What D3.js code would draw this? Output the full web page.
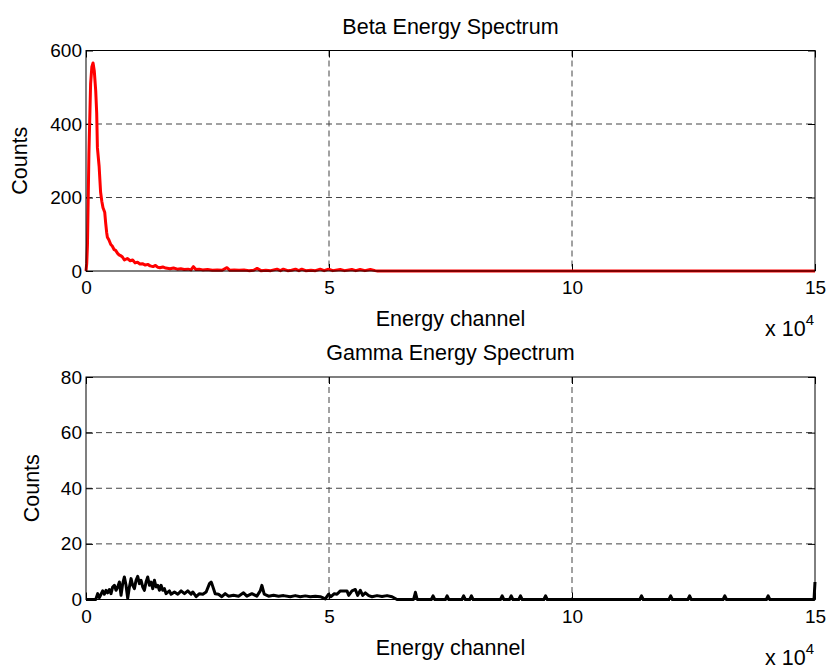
<!DOCTYPE html>
<html>
<head>
<meta charset="utf-8">
<script src="https://cdn.jsdelivr.net/npm/d3@7"></script>
<style>
  body { margin: 0; background: #fff; }
  svg { display: block; }
  text { font-family: "Liberation Sans", Arial, Helvetica, sans-serif; fill: #000; }
</style>
</head>
<body>
<svg id="chart" width="830" height="668"></svg>
<script>
// Beta spectrum: channel positions and counts
const betaChannel = [
  0, 150, 300, 600, 950, 1200, 1450, 1700, 2000, 2200,
  2350, 2700, 3000, 3250, 3500, 3850, 4050, 4250, 4400, 4700,
  5100, 5400, 5800, 6100, 6500, 6800, 7100, 7500, 7900, 8500,
  9100, 9600, 10100, 10600, 11100, 11600, 12200, 12700, 13200, 13800,
  14300, 14800, 15200, 15800, 16400, 17300, 18000, 18800, 19500, 20200,
  21000, 21600, 22100, 22600, 23300, 24000, 25000, 26000, 27000, 28000,
  29000, 29600, 30500, 31500, 32500, 33500, 34500, 35200, 36000, 37000,
  38000, 39300, 40000, 40600, 41500, 42300, 43100, 43800, 44400, 45200,
  46300, 47200, 48200, 49000, 49900, 50800, 52300, 53200, 54700, 55500,
  56400, 57400, 58500, 59500, 60000, 150000
];
const betaCounts = [
  0, 20, 70, 320, 510, 555, 566, 545, 490, 430,
  335, 285, 215, 190, 172, 160, 130, 105, 92, 85,
  72, 68, 58, 56, 48, 44, 42, 38, 30, 34,
  28, 30, 22, 24, 19, 20, 16, 18, 14, 12,
  15, 10, 9, 11, 8, 6, 8, 5, 6, 4,
  5, 3, 12, 4, 5, 3, 4, 2, 3, 2,
  9, 2, 3, 2, 3, 1, 2, 7, 1, 2,
  1, 5, 1, 5, 1, 2, 5, 1, 5, 1,
  2, 1, 5, 1, 5, 1, 4, 1, 4, 1,
  4, 1, 4, 1, 0, 0
];

// Gamma spectrum: channel positions and counts
const gammaChannel = [
  0, 2000, 2400, 2750, 3100, 3430, 3780, 4120, 4460, 4810,
  5150, 5490, 5840, 6180, 6520, 6870, 7210, 7550, 7900, 8240,
  8580, 8930, 9270, 9610, 9960, 10300, 10640, 10990, 11330, 11670,
  12020, 12360, 12700, 13050, 13390, 13730, 14080, 14420, 14760, 15110,
  15450, 15790, 16140, 16480, 17170, 17510, 18200, 18890, 19570, 20260,
  20940, 21630, 21970, 22660, 23350, 24040, 24720, 25410, 25750, 25890,
  26580, 27260, 27950, 28640, 29320, 30350, 31380, 32410, 33100, 34130,
  35160, 35850, 36190, 36670, 37560, 38590, 39620, 40650, 42030, 43060,
  44090, 45120, 46150, 47180, 48210, 49240, 49920, 50410, 51090, 51640,
  52330, 53700, 54050, 54730, 55420, 55900, 56450, 56930, 57480, 58170,
  58850, 59880, 60910, 61940, 62970, 64000,
  67400, 67780, 68150, 71050, 71410, 71770, 73950, 74300, 74650,
  77350, 77700, 78050, 78950, 79300, 79650, 85280, 85630, 85980,
  87140, 87490, 87840, 89050, 89400, 89750, 94210, 94560, 94910,
  113950, 114300, 114650, 119950, 120300, 120650, 123850, 124200, 124550,
  131090, 131440, 131790, 140010, 140360, 140710, 149800, 150000
];
const gammaCounts = [
  0, 0, 2.1, 0.7, 1.9, 3.1, 1.9, 3.3, 2.4, 3.6,
  2.1, 4.5, 5.1, 3.3, 4.5, 6.3, 1.5, 5.7, 8.1, 5.1,
  0.4, 4.5, 7.5, 5.1, 3.9, 6.9, 8.3, 5.7, 6.9, 4.5,
  3.3, 6.3, 8.1, 5.1, 6.3, 3.9, 6.9, 4.5, 5.1, 3.3,
  5.1, 3.3, 3.9, 2.1, 3.1, 1.9, 2.7, 1.9, 3.1, 2.1,
  3.1, 1.9, 2.7, 1, 2.1, 1.9, 2.7, 5.7, 6.3, 5.7,
  2.1, 1.9, 1, 2.1, 1.2, 1.5, 1.2, 2.4, 1.2, 2.1,
  1.2, 3.1, 5.1, 1.9, 1.2, 1.5, 1.2, 1.4, 1, 1.4,
  1, 1.3, 1, 1.2, 1, 0.2, 1.9, 1, 2.1, 1.9,
  3.1, 3.1, 1.5, 3.1, 3.6, 1.5, 3.3, 1.5, 2.4, 1.4,
  1, 1.4, 1.1, 1.4, 1, 0,
  0, 2.6, 0, 0, 1.3, 0, 0, 1.3, 0,
  0, 1.3, 0, 0, 1.3, 0, 0, 1.3, 0,
  0, 1.3, 0, 0, 1.3, 0, 0, 1.3, 0,
  0, 1.3, 0, 0, 1.3, 0, 0, 1.3, 0,
  0, 1.3, 0, 0, 1.3, 0, 0, 6.3
];

// Axis ticks and labels
const xTicks = [0, 50000, 100000, 150000];
const xTickLabels = ["0", "5", "10", "15"];
const betaYTicks = [0, 200, 400, 600];
const gammaYTicks = [0, 20, 40, 60, 80];

const svg = d3.select("#chart");
const plotLeft = 86, plotRight = 815;
const tickLen = 7;
const tickFont = "19px";
const labelFont = "21.5px";

const panels = [
  { title: "Beta Energy Spectrum", top: 50.5, bottom: 271, yMax: 600,
    yTicks: betaYTicks, xs: betaChannel, ys: betaCounts, color: "#ff0000", ylabelX: 27 },
  { title: "Gamma Energy Spectrum", top: 377, bottom: 599.5, yMax: 80,
    yTicks: gammaYTicks, xs: gammaChannel, ys: gammaCounts, color: "#000000", ylabelX: 39 }
];

panels.forEach(p => {
  const x = d3.scaleLinear().domain([0, 150000]).range([plotLeft, plotRight]);
  const y = d3.scaleLinear().domain([0, p.yMax]).range([p.bottom, p.top]);
  const g = svg.append("g");

  // dashed grid at interior ticks
  g.append("g").selectAll("line")
    .data(xTicks.filter(d => d > 0 && d < 150000))
    .join("line")
    .attr("x1", d => x(d)).attr("x2", d => x(d))
    .attr("y1", p.top).attr("y2", p.bottom)
    .attr("stroke", "#444").attr("stroke-width", 1)
    .attr("stroke-dasharray", "6,4");
  g.append("g").selectAll("line")
    .data(p.yTicks.filter(d => d > 0 && d < p.yMax))
    .join("line")
    .attr("x1", plotLeft).attr("x2", plotRight)
    .attr("y1", d => y(d)).attr("y2", d => y(d))
    .attr("stroke", "#444").attr("stroke-width", 1)
    .attr("stroke-dasharray", "6,4");

  // axes with inward ticks on all four sides
  const styleAxis = sel => {
    sel.select(".domain").remove();
    sel.selectAll(".tick line").attr("stroke", "#000");
    sel.selectAll("text").style("font-size", tickFont)
      .style("font-family", "'Liberation Sans', Arial, sans-serif");
  };
  g.append("g").attr("transform", `translate(0,${p.bottom})`)
    .call(d3.axisBottom(x).tickValues(xTicks).tickFormat((d, i) => xTickLabels[i])
      .tickSizeInner(-tickLen).tickSizeOuter(0).tickPadding(10))
    .call(styleAxis);
  g.append("g").attr("transform", `translate(0,${p.top})`)
    .call(d3.axisTop(x).tickValues(xTicks).tickFormat("")
      .tickSizeInner(-tickLen).tickSizeOuter(0))
    .call(styleAxis);
  g.append("g").attr("transform", `translate(${plotLeft},0)`)
    .call(d3.axisLeft(y).tickValues(p.yTicks).tickFormat(d3.format("d"))
      .tickSizeInner(-tickLen).tickSizeOuter(0).tickPadding(4))
    .call(styleAxis);
  g.append("g").attr("transform", `translate(${plotRight},0)`)
    .call(d3.axisRight(y).tickValues(p.yTicks).tickFormat("")
      .tickSizeInner(-tickLen).tickSizeOuter(0))
    .call(styleAxis);

  // spectrum line
  const pts = p.xs.map((c, i) => [c, p.ys[i]]);
  g.append("path")
    .datum(pts)
    .attr("fill", "none")
    .attr("stroke", p.color)
    .attr("stroke-width", 3)
    .attr("stroke-linejoin", "round")
    .attr("d", d3.line().x(d => x(d[0])).y(d => y(d[1])));

  // box
  g.append("rect")
    .attr("x", plotLeft).attr("y", p.top)
    .attr("width", plotRight - plotLeft).attr("height", p.bottom - p.top)
    .attr("fill", "none").attr("stroke", "#000").attr("stroke-width", 1);

  // title
  g.append("text")
    .attr("x", (plotLeft + plotRight) / 2).attr("y", p.top - 17)
    .attr("text-anchor", "middle").style("font-size", labelFont)
    .text(p.title);

  // x axis label
  g.append("text")
    .attr("x", (plotLeft + plotRight) / 2).attr("y", p.bottom + 55)
    .attr("text-anchor", "middle").style("font-size", labelFont)
    .text("Energy channel");

  // exponent label
  const ex = g.append("text")
    .attr("x", 814).attr("y", p.bottom + 65)
    .attr("text-anchor", "end").style("font-size", labelFont);
  ex.append("tspan").text("x 10");
  ex.append("tspan").attr("dy", -11).style("font-size", "15px").text("4");

  // y axis label
  g.append("text")
    .attr("transform", `translate(${p.ylabelX},${(p.top + p.bottom) / 2}) rotate(-90)`)
    .attr("text-anchor", "middle").style("font-size", labelFont)
    .text("Counts");
});
</script>
</body>
</html>
